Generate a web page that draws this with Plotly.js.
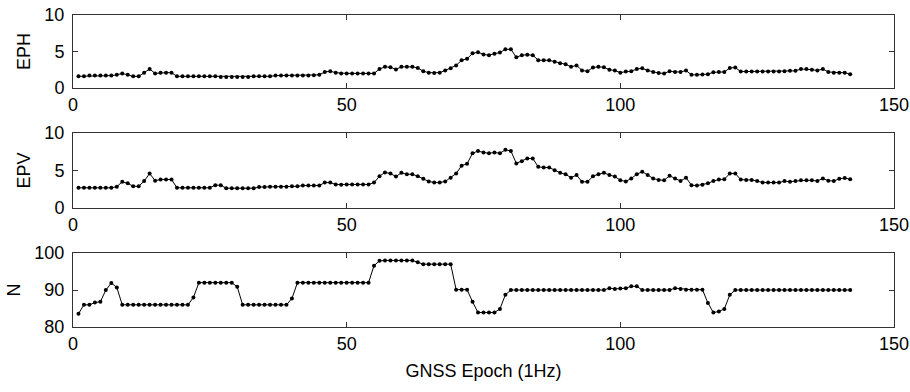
<!DOCTYPE html>
<html><head><meta charset="utf-8">
<script src="https://cdn.plot.ly/plotly-3.0.1.min.js"></script>
<style>html,body{margin:0;padding:0;background:#fff}#chart{width:910px;height:392px}</style>
</head><body><div id="chart"></div>
<script>
var epochStart = 1, epochEnd = 142;
var EPH = [
1.6,1.6,1.7,1.7,1.7,1.7,1.7,1.8,2.0,1.8, 1.6,1.6,2.1,2.6,2.0,2.1,2.1,2.1,1.6,1.6,
1.6,1.6,1.6,1.6,1.6,1.6,1.5,1.5,1.5,1.5, 1.5,1.5,1.6,1.6,1.6,1.6,1.7,1.7,1.7,1.7,
1.7,1.7,1.7,1.75,1.8,2.2,2.3,2.1,2.0,2.0, 2.0,2.0,2.0,2.0,2.0,2.6,2.9,2.85,2.55,2.9,
2.9,2.9,2.75,2.3,2.1,2.05,2.1,2.4,2.7,3.1, 3.8,4.0,4.75,4.9,4.6,4.5,4.7,4.85,5.3,5.3,
4.2,4.5,4.55,4.5,3.8,3.8,3.8,3.6,3.4,3.25, 2.9,3.1,2.4,2.3,2.8,2.9,2.85,2.5,2.4,2.1,
2.25,2.3,2.6,2.7,2.4,2.2,2.05,2.0,2.3,2.2, 2.2,2.4,1.8,1.8,1.85,1.9,2.15,2.2,2.2,2.75,
2.8,2.25,2.25,2.25,2.25,2.25,2.25,2.25,2.25,2.3, 2.35,2.35,2.6,2.6,2.5,2.4,2.6,2.2,2.1,2.1,
2.1,1.9];
var EPV = [
2.7,2.7,2.7,2.7,2.7,2.7,2.7,2.85,3.5,3.3, 2.9,2.9,3.6,4.6,3.65,3.8,3.8,3.8,2.7,2.7,
2.7,2.7,2.7,2.7,2.7,3.05,3.05,2.65,2.65,2.65, 2.65,2.65,2.65,2.8,2.8,2.85,2.85,2.85,2.85,2.9,
2.9,3.0,3.0,3.0,3.0,3.4,3.4,3.15,3.1,3.15, 3.15,3.15,3.15,3.15,3.4,4.25,4.75,4.6,4.2,4.7,
4.5,4.5,4.25,3.9,3.55,3.4,3.4,3.55,4.05,4.6, 5.65,5.9,7.3,7.6,7.4,7.3,7.4,7.3,7.75,7.6,
5.95,6.25,6.6,6.6,5.5,5.4,5.4,5.05,4.7,4.5, 4.05,4.4,3.5,3.5,4.25,4.5,4.7,4.4,4.2,3.7,
3.55,3.95,4.5,4.85,4.4,3.95,3.75,3.7,4.3,3.95, 3.6,4.05,3.05,3.0,3.1,3.3,3.6,3.8,3.85,4.6,
4.6,3.8,3.75,3.75,3.6,3.4,3.4,3.4,3.4,3.6, 3.5,3.6,3.7,3.7,3.7,3.6,3.95,3.65,3.6,3.9,
4.0,3.85];
var N = [
83.6,86,86,86.6,86.8,90,91.9,90.7,86,86, 86,86,86,86,86,86,86,86,86,86,
86,88,92,92,92,92,92,92,92,90.9, 86,86,86,86,86,86,86,86,86,87.7,
92,92,92,92,92,92,92,92,92,92, 92,92,92,92,96.6,97.9,98,98,98,98,
98,98,97.5,97,97,97,97,97,97,90.1, 90.1,90.1,86.8,83.9,83.9,83.9,83.9,84.9,88.7,90,
90,90,90,90,90,90,90,90,90,90, 90,90,90,90,90,90,90,90.5,90.3,90.4,
90.5,91,91,90,90,90,90,90,90,90.5, 90.3,90.1,90.1,90.1,90.1,86.5,83.9,84.2,84.9,88.7,
90,90,90,90,90,90,90,90,90,90, 90,90,90,90,90,90,90,90,90,90,
90,90];
var epochs = [];
for (var i = epochStart; i <= epochEnd; i++) epochs.push(i);
var yLabels = ['EPH', 'EPV', 'N'];
var xTitle = 'GNSS Epoch (1Hz)';

function tr(y, k) {
  return {x: epochs, y: y, type: 'scatter', mode: 'lines+markers',
    xaxis: 'x' + (k === 1 ? '' : k), yaxis: 'y' + (k === 1 ? '' : k),
    line: {color: '#000', width: 1}, marker: {color: '#000', size: 4}, showlegend: false};
}
var FONT = {family: 'Liberation Sans, Arial, sans-serif', size: 18, color: '#000'};
function xa(anchor, title) {
  var a = {domain: [0, 1], range: [0, 150], tickvals: [0, 50, 100, 150], anchor: anchor,
    showline: true, mirror: 'ticks', linecolor: '#333', linewidth: 1, ticks: 'inside', ticklen: 5,
    tickcolor: '#333', showgrid: false, zeroline: false, tickfont: FONT};
  if (title) a.title = {text: title, font: FONT, standoff: 11};
  return a;
}
function ya(anchor, dom, rng, vals, title) {
  return {domain: dom, range: rng, tickvals: vals, anchor: anchor,
    showline: true, mirror: 'ticks', linecolor: '#333', linewidth: 1, ticks: 'inside', ticklen: 5,
    tickcolor: '#333', showgrid: false, zeroline: false, tickfont: FONT, ticklabelstandoff: 4,
    title: {text: title, font: FONT, standoff: 9}};
}
var layout = {
  width: 910, height: 392, paper_bgcolor: '#fff', plot_bgcolor: '#fff',
  margin: {l: 73, r: 16, t: 15, b: 65},
  font: FONT,
  xaxis: xa('y'), xaxis2: xa('y2'), xaxis3: xa('y3', xTitle),
  yaxis: ya('x', [0.766, 1], [0, 10], [0, 5, 10], yLabels[0]),
  yaxis2: ya('x2', [0.381, 0.622], [0, 10], [0, 5, 10], yLabels[1]),
  yaxis3: ya('x3', [0, 0.237], [80, 100], [80, 90, 100], yLabels[2])
};
Plotly.newPlot('chart', [tr(EPH, 1), tr(EPV, 2), tr(N, 3)], layout, {displayModeBar: false, staticPlot: true});
</script></body></html>
